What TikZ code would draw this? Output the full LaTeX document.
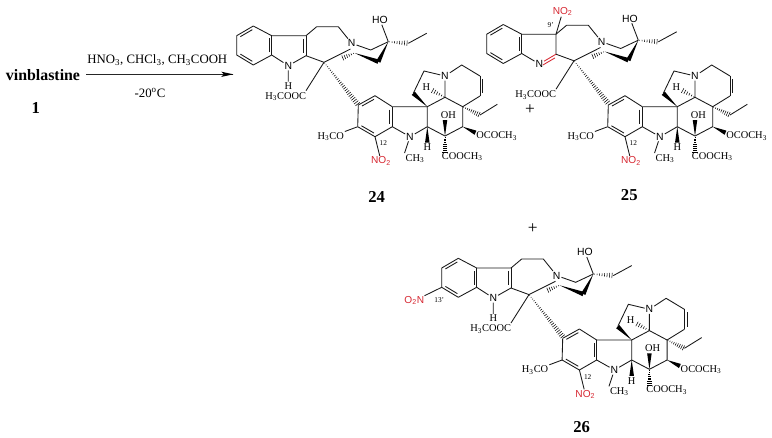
\documentclass[tikz,border=0pt]{standalone}
\usepackage{fontspec}
\setmainfont{Liberation Serif}
\newfontfamily\labelsans{Liberation Sans}
\usetikzlibrary{calc}
\definecolor{nitrored}{RGB}{214,40,50}
\tikzset{
	bond/.style={line width=0.65pt, color=black!90},
	atom/.style={inner sep=0.6pt, font=\fontsize{7.8}{8}\selectfont},
	sansatom/.style={inner sep=0.6pt, font=\labelsans\fontsize{7.8}{8}\selectfont},
	nitro/.style={inner sep=0.4pt, text=nitrored, font=\labelsans\fontsize{7.6}{8}\selectfont},
	tinynum/.style={inner sep=0pt, font=\fontsize{5.5}{6}\selectfont},
	compound/.style={inner sep=0pt, font=\bfseries\fontsize{12.5}{13}\selectfont},
	plain/.style={inner sep=0pt, font=\fontsize{9.6}{10}\selectfont},
}
\def\dblbond[#1](#2)(#3)(#4){\draw[bond,#1] (#2) -- (#3);
	\draw[bond,#1] ($(#2)!.14!(#3)!2pt!#4:(#3)$) -- ($(#3)!.14!(#2)!2pt!-#4:(#2)$);}
\def\wedgebond(#1)(#2){\fill[black] (#1) -- ($(#2)!1.7pt!90:(#1)$) -- ($(#2)!1.7pt!-90:(#1)$) -- cycle;}
\def\hashbond[#1](#2)(#3){\foreach \i in {1,...,#1}{
	\pgfmathsetmacro\t{(\i-0.5)/#1}
	\pgfmathsetmacro\wid{0.2+1.9*\t}
	\draw[line width=0.4pt] ($(#2)!\t!(#3)!\wid pt!90:(#3)$) -- ($(#2)!\t!(#3)!\wid pt!-90:(#3)$);}}

% upper half: benzo ring, seven ring and the bridge
\def\vinupper{
	\coordinate (b1) at (253.3,26);
	\coordinate (b2) at (236.7,35.7);
	\coordinate (b3) at (236.7,55);
	\coordinate (b4) at (253.3,65);
	\coordinate (b5) at (271.7,55);
	\coordinate (b6) at (271.7,35.7);
	\coordinate (c3) at (306,35.7);
	\coordinate (c2) at (306,55.7);
	\coordinate (c6) at (316.7,26.7);
	\coordinate (c5) at (338.3,26.7);
	\coordinate (c16) at (324,62.3);
	\coordinate (br0) at (350.5,49);
	\coordinate (br1) at (354.5,53);
	\coordinate (br2) at (378.3,61.7);
	\coordinate (br3) at (370.7,50);
	\coordinate (br4) at (388.3,41.7);
	\coordinate (et1) at (408.3,43.3);
	\coordinate (et2) at (426.7,33.3);
	\coordinate (hs1) at (341.7,58.3);
	\coordinate (est) at (306,90.7);
	\coordinate (arl) at (358.3,105);
	\node[sansatom] (n4) at (351.7,43.3) {N};
	\node[sansatom] (ho) at (380,20) {HO};
	\node[atom] (ester) at (285.7,96.7) {H\textsubscript{3}COOC};
	\draw[bond] (b1) -- (b6) (b2) -- (b3) (b4) -- (b5) (b6) -- (c3);
	\dblbond[](b1)(b2)(90)
	\dblbond[](b3)(b4)(90)
	\dblbond[](b5)(b6)(90)
	\draw[bond] (c3) -- (c6) -- (c5) -- (n4);
	\draw[bond] (c2) -- (c16) -- (br0);
	\draw[bond] (n4) -- (br3) -- (br4);
	\draw[bond] (c16) -- (est);
	\draw[bond] (br4) -- (ho);
	\draw[bond] (et1) -- (et2);
	\wedgebond(br1)(br2)
	\wedgebond(br4)(br2)
	\hashbond[8](br4)(et1)
	\hashbond[6](br1)(hs1)
	\hashbond[24](c16)(arl)
}

% lower half: vindoline part
\def\vinlower{
	\coordinate (a1) at (358.3,105);
	\coordinate (a2) at (375,95.7);
	\coordinate (a3) at (392.3,106.7);
	\coordinate (a4) at (392.3,126.7);
	\coordinate (a5) at (375,136.7);
	\coordinate (a6) at (357.7,126.7);
	\coordinate (d1) at (427.3,106.7);
	\coordinate (d2) at (427.3,126.7);
	\coordinate (d3) at (445,136);
	\coordinate (d4) at (462.7,126.7);
	\coordinate (d5) at (462.7,106.7);
	\coordinate (d6) at (445,97.3);
	\coordinate (e1) at (413.3,93.3);
	\coordinate (e2) at (424,71);
	\coordinate (f1) at (461.7,65);
	\coordinate (f2) at (480,76);
	\coordinate (f3) at (480,96);
	\coordinate (g1) at (480,115);
	\coordinate (g2) at (497.3,104.3);
	\coordinate (hup) at (431.5,90);
	\coordinate (hdn) at (427.3,142.5);
	\coordinate (ohw) at (445,120);
	\coordinate (cow) at (445,153);
	\coordinate (oaw) at (475.5,132.7);
	\node[sansatom] (n1) at (410,136.7) {N};
	\node[sansatom] (n2) at (445,76) {N};
	\node[atom] (ome) at (330.7,136.7) {H\textsubscript{3}CO};
	\node[nitro] (no) at (381,161) {NO\textsubscript{2}};
	\node[tinynum] (pos) at (383.3,143.3) {12};
	\node[atom] (nme) at (415,158.3) {CH\textsubscript{3}};
	\node[atom] (ha) at (427.3,147.5) {H};
	\node[atom] (hb) at (426.3,86.8) {H};
	\node[atom] (oh) at (448.3,115) {OH};
	\node[atom] (coo) at (462.3,156.7) {COOCH\textsubscript{3}};
	\node[atom] (oac) at (496.7,136) {OCOCH\textsubscript{3}};
	\dblbond[](a1)(a2)(-90)
	\draw[bond] (a2) -- (a3) (a4) -- (a5) (a6) -- (a1);
	\dblbond[](a3)(a4)(-90)
	\dblbond[](a5)(a6)(-90)
	\draw[bond] (a3) -- (d1) -- (d2) -- (n1) -- (a4);
	\draw[bond] (a6) -- (ome.north east);
	\draw[bond] (a5) -- (no);
	\draw[bond] (n1) -- (nme.north west);
	\draw[bond] (d2) -- (d3) -- (d4) -- (d5) -- (d6) -- (d1);
	\draw[bond] (e1) -- (e2) -- (n2) -- (d6);
	\draw[bond] (n2) -- (f1) -- (f2);
	\dblbond[](f2)(f3)(90)
	\draw[bond] (f3) -- (d5);
	\draw[bond] (g1) -- (g2);
	\wedgebond(d1)(e1)
	\wedgebond(d2)(hdn)
	\wedgebond(d3)(ohw)
	\wedgebond(d4)(oaw)
	\hashbond[6](d6)(hup)
	\hashbond[9](d3)(cow)
	\hashbond[9](d5)(g1)
}

\begin{document}
\begin{tikzpicture}[x=0.75pt,y=-0.75pt]
	%%%%% START %%%%%
	\useasboundingbox (0,0) rectangle (772,437);
	
	\node[compound,font=\bfseries\fontsize{11.9}{13}\selectfont] (vin) at (43,75) {vinblastine};
	\node[compound] (one) at (35.7,108.3) {1};
	\coordinate (arrowa) at (86,74.3);
	\coordinate (arrowb) at (233.3,74.3);
	\draw[line width=0.6pt, color=black!85] (arrowa) -- (arrowb);
	\fill[black] (arrowb) -- ++(-12,-2.6) -- ++(2.5,2.6) -- ++(-2.5,2.6) -- cycle;
	\node[plain] (reag) at (157.3,60) {HNO\textsubscript{3}, CHCl\textsubscript{3}, CH\textsubscript{3}COOH};
	\node[plain] (temp) at (150,93.3) {-20\textsuperscript{o}C};
	
	% compound 24
	\begin{scope}[name prefix=p-]
		\vinupper
		\vinlower
		\node[sansatom] (n5) at (288.3,65.7) {N};
		\node[atom] (nh) at (288.3,86) {H};
		\draw[bond] (c2) -- (n5) -- (b5) (n5) -- (nh);
		\dblbond[](c3)(c2)(-90)
		\node[compound] (label) at (376.7,196.7) {24};
	\end{scope}
	
	\node[inner sep=0pt, font=\fontsize{13}{13}\selectfont] (plusa) at (530,109.3) {+};
	
	% compound 25
	\begin{scope}[shift={(250,-1.5)},name prefix=q-]
		\vinupper
		\node[sansatom] (n5) at (289.3,65.5) {N};
		\node[nitro] (no9) at (312.7,13.2) {NO\textsubscript{2}};
		\node[tinynum] (pos9) at (300.7,26.5) {9'};
		\draw[bond] (c3) -- (c2) (n5) -- (b5) (c3) -- (no9);
		\dblbond[color=nitrored](c2)(n5)(90)
	\end{scope}
	\begin{scope}[shift={(250,0)},name prefix=r-]
		\vinlower
		\node[compound] (label) at (379.3,195) {25};
	\end{scope}
	
	\node[inner sep=0pt, font=\fontsize{13}{13}\selectfont] (plusb) at (532.7,229) {+};
	
	% compound 26
	\begin{scope}[shift={(205,232.3)},name prefix=s-]
		\vinupper
		\node[sansatom] (n5) at (288.3,65.7) {N};
		\node[atom] (nh) at (288.3,86) {H};
		\node[nitro] (no13) at (209.3,68.4) {O\textsubscript{2}N};
		\node[tinynum] (pos13) at (234.3,67.7) {13'};
		\draw[bond] (c2) -- (n5) -- (b5) (n5) -- (nh) (b3) -- (no13);
		\dblbond[](c3)(c2)(-90)
	\end{scope}
	\begin{scope}[shift={(204.4,233.3)},name prefix=t-]
		\vinlower
		\node[compound] (label) at (377.3,193.4) {26};
	\end{scope}
	
	%%%%% END %%%%%
\end{tikzpicture}
\end{document}
